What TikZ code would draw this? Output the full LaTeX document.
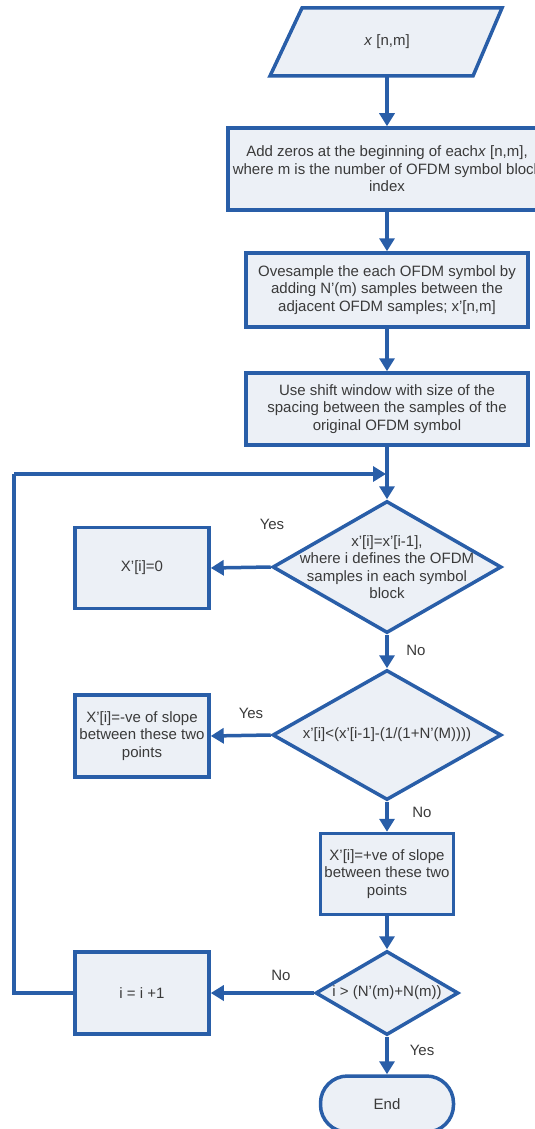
\documentclass[tikz,border=0pt]{standalone}
\usepackage{fontspec}
\setmainfont{Liberation Sans}
\usetikzlibrary{arrows.meta,shapes.geometric}
\definecolor{flowblue}{RGB}{41,94,168}
\definecolor{flowfill}{RGB}{236,240,246}
\definecolor{flowtext}{RGB}{58,58,58}

\begin{document}
\begin{tikzpicture}[x=1pt,y=-1pt,
  every node/.style={font=\fontsize{15}{17.5}\selectfont, text=flowtext},
  proc/.style={draw=flowblue, fill=flowfill, line width=3.5pt, align=center, inner sep=0pt},
  decision/.style={diamond, draw=flowblue, fill=flowfill, line width=3.5pt, inner sep=0pt},
  terminal/.style={draw=flowblue, fill=flowfill, line width=3.5pt, rounded corners=27pt, inner sep=0pt},
  flow/.style={draw=flowblue, line width=3.5pt, -{Triangle[length=13pt,width=15pt]}},
  loopline/.style={draw=flowblue, line width=3.5pt, line join=miter}
]
\useasboundingbox (0,0) rectangle (535,1129);

% input parallelogram
\draw[draw=flowblue, fill=flowfill, line width=3.5pt] (302,8) -- (502,8) -- (473,76) -- (270,76) -- cycle;
\node (in) at (387,42) [minimum width=170pt, minimum height=68pt, inner sep=0pt] {\textit{x} [n,m]};

% process steps
\node[proc, minimum width=318pt, minimum height=82pt] (zeros) at (387,169)
  {Add zeros at the beginning of each\textit{x} [n,m],\\where m is the number of OFDM symbol block\\index};
\node[proc, minimum width=282pt, minimum height=74pt] (over) at (387,290)
  {Ovesample the each OFDM symbol by\\adding N'(m) samples between the\\adjacent OFDM samples; x'[n,m]};
\node[proc, minimum width=282pt, minimum height=72pt] (shift) at (387,409)
  {Use shift window with size of the\\spacing between the samples of the\\original OFDM symbol};

% decisions
\node[decision, minimum width=229pt, minimum height=132pt,
  label={[align=center]center:{x'[i]=x'[i-1],\\where i defines the OFDM\\samples in each symbol\\block}}] (d1) at (387,567) {};
\node[decision, minimum width=229pt, minimum height=130pt,
  label={[align=center]center:{x'[i]<(x'[i-1]-(1/(1+N'(M))))}}] (d2) at (387,735) {};
\node[decision, minimum width=143pt, minimum height=84pt,
  label={[align=center]center:{i > (N'(m)+N(m))}}] (d3) at (387,993) {};

% side boxes
\node[proc, minimum width=134pt, minimum height=81pt] (zero) at (142,568) {X'[i]=0};
\node[proc, minimum width=134pt, minimum height=82pt] (neg) at (142,736)
  {X'[i]=-ve of slope\\between these two\\points};
\node[proc, minimum width=133pt, minimum height=81pt] (pos) at (387,874)
  {X'[i]=+ve of slope\\between these two\\points};
\node[proc, minimum width=134pt, minimum height=82pt] (inc) at (142,993) {i = i +1};

% end
\node[terminal, minimum width=133pt, minimum height=56pt] (end) at (387,1104) {End};

% connectors
\draw[flow] (in.south) -- (zeros.north);
\draw[flow] (zeros.south) -- (over.north);
\draw[flow] (over.south) -- (shift.north);
\draw[flow] (shift.south) -- (d1.north);
\draw[flow] (d1.west) -- (zero.east);
\draw[flow] (d1.south) -- (d2.north);
\draw[flow] (d2.west) -- (neg.east);
\draw[flow] (d2.south) -- (pos.north);
\draw[flow] (pos.south) -- (d3.north);
\draw[flow] (d3.west) -- (inc.east);
\draw[flow] (d3.south) -- (end.north);

% loop back to the top of the window test
\coordinate (merge) at (387,474);
\coordinate (leftrail) at (14,993);
\draw[loopline] (inc.west) -- (leftrail) -- (leftrail |- merge);
\draw[flow] (leftrail |- merge) -- ([xshift=-1pt]merge);

% branch labels
\node at (272,524) {Yes};
\node at (416,650) {No};
\node at (251,713) {Yes};
\node at (422,812) {No};
\node at (281,975) {No};
\node at (422,1050) {Yes};
\end{tikzpicture}
\end{document}
